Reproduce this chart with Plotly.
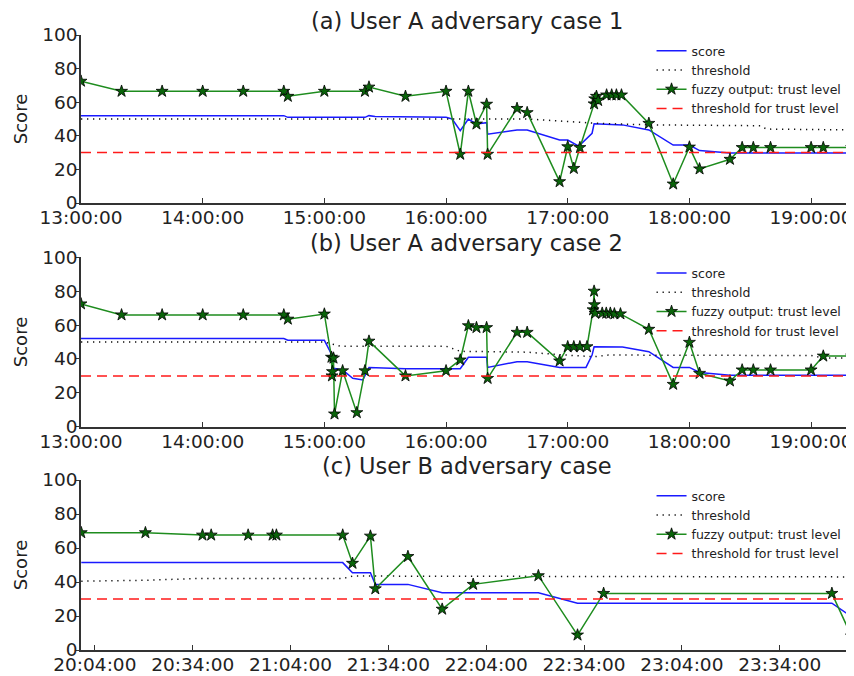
import plotly.graph_objects as go

DAY = "2000-01-01 "

# ---------------- Panel (a) ----------------
a_fuzzy_t = ["13:00:00", "13:20:00", "13:40:00", "14:00:00", "14:20:00", "14:40:00", "14:42:00",
             "15:00:00", "15:20:00", "15:22:00", "15:40:00", "16:00:00", "16:07:00", "16:11:00",
             "16:15:00", "16:20:00", "16:20:30", "16:35:00", "16:40:00", "16:56:00", "17:00:00",
             "17:03:00", "17:06:00", "17:13:00", "17:13:20", "17:14:10", "17:15:00", "17:19:10",
             "17:21:40", "17:24:00", "17:26:30", "17:40:00", "17:52:00", "18:00:00", "18:05:00",
             "18:20:00", "18:26:00", "18:31:30", "18:40:00", "19:00:00", "19:06:00", "19:20:00"]
a_fuzzy_v = [72.5, 66.5, 66.5, 66.5, 66.5, 66.5, 63.5,
             66.5, 66.5, 69, 63.5, 66.5, 29, 66.5,
             47, 58.8, 29, 56.3, 53.8, 12.7, 33.5,
             20.6, 33, 59, 62, 63.5, 61, 64.3,
             64.3, 64.3, 64.3, 47.4, 11.3, 33.3, 20.3,
             26, 33, 33, 33, 33, 33, 33]
a_score_t = ["13:00:00", "14:40:00", "14:42:00", "15:20:00", "15:22:00", "15:25:00", "16:00:00",
             "16:03:00", "16:07:00", "16:11:00", "16:15:00", "16:20:00", "16:20:30", "16:35:00",
             "16:40:00", "16:45:00", "16:56:00", "17:00:00", "17:05:00", "17:06:00", "17:12:00",
             "17:13:00", "17:27:00", "17:40:00", "17:52:00", "18:00:00", "18:05:00", "18:20:00",
             "19:20:00"]
a_score_v = [52, 52, 51, 51, 52, 51.5, 51,
             50, 43, 50, 47, 47.8, 41, 43.5,
             43.5, 41.5, 37.5, 37.5, 34.1, 34.5, 41.5,
             47.2, 46.5, 43.5, 34.5, 34.5, 31.2, 29.8,
             29.8]
a_thr_t = ["13:00:00", "16:40:00", "17:00:00", "17:13:00", "17:40:00", "18:35:00", "18:38:00", "19:20:00"]
a_thr_v = [50, 50, 48.5, 47.5, 46.5, 46, 44, 43.5]

# ---------------- Panel (b) ----------------
b_fuzzy_t = ["13:00:00", "13:20:00", "13:40:00", "14:00:00", "14:20:00", "14:40:00", "14:42:00",
             "15:00:00", "15:03:30", "15:03:45", "15:04:00", "15:04:30", "15:05:00", "15:09:00",
             "15:16:00", "15:20:00", "15:22:00", "15:40:00", "16:00:00", "16:07:00", "16:11:00",
             "16:15:00", "16:20:00", "16:20:30", "16:35:00", "16:40:00", "16:56:00", "17:00:00",
             "17:03:00", "17:06:00", "17:09:30", "17:12:30", "17:13:00", "17:13:10", "17:13:30",
             "17:17:00", "17:19:00", "17:21:00", "17:23:00", "17:26:00", "17:40:00", "17:52:00",
             "18:00:00", "18:05:00", "18:20:00", "18:26:00", "18:31:30", "18:40:00", "19:00:00",
             "19:06:00", "19:20:00"]
b_fuzzy_v = [72.5, 66, 66, 66, 66, 66, 63.5,
             66.5, 41, 30, 32.5, 40.5, 7.5, 33,
             8.3, 33, 50.5, 30, 33, 39.4, 59.6,
             58.5, 58.5, 28.5, 55.7, 55.7, 38.8, 47.2,
             47.2, 47.2, 47.2, 69, 80, 72, 67,
             67, 67, 67, 66.6, 66.6, 57.5, 25,
             49.8, 31.5, 27, 33.5, 33.5, 33.5, 33.5,
             41.7, 41.7]
b_score_t = ["13:00:00", "14:40:00", "14:42:00", "15:00:00", "15:03:00", "15:04:30", "15:09:00",
             "15:14:00", "15:19:00", "15:22:00", "15:40:00", "16:07:00", "16:11:00", "16:20:00",
             "16:20:30", "16:35:00", "16:40:00", "16:56:00", "17:09:00", "17:12:00", "17:13:00",
             "17:27:00", "17:40:00", "17:52:00", "18:00:00", "18:05:00", "18:20:00", "19:20:00"]
b_score_v = [52, 52, 51, 51, 44, 34.5, 33.5,
             28.6, 27.6, 35, 34.2, 34.2, 41, 41,
             35, 38.4, 38.4, 35, 35, 42.3, 47.2,
             47, 44.3, 35, 35, 32, 30.3, 30.3]
b_thr_t = ["13:00:00", "15:00:00", "15:08:00", "16:00:00", "16:07:00", "16:40:00", "16:56:00",
           "17:13:00", "17:20:00", "19:00:00", "19:06:00", "19:20:00"]
b_thr_v = [50, 50, 47.5, 47.5, 44.5, 44, 42.5, 41.3, 42.3, 42, 40.5, 40.5]

# ---------------- Panel (c) ----------------
c_fuzzy_t = ["19:59:50", "20:19:30", "20:37:00", "20:39:40", "20:51:00", "20:58:30", "20:59:40",
             "21:20:00", "21:23:00", "21:28:30", "21:30:00", "21:40:00", "21:50:30", "22:00:00",
             "22:20:00", "22:32:00", "22:40:00", "23:50:00", "23:56:00"]
c_fuzzy_v = [69, 69, 67.6, 67.6, 67.6, 67.6, 67.6,
             67.6, 51, 67, 36, 55, 24, 38.6,
             43.7, 8.8, 33.3, 33.3, 8.2]
c_score_t = ["19:59:50", "21:20:00", "21:23:00", "21:28:30", "21:30:00", "21:40:00", "21:50:30",
             "22:20:00", "22:32:00", "23:50:00", "23:56:00"]
c_score_v = [51.4, 51.4, 45.5, 45.5, 38.6, 38.6, 33.7, 33.7, 27.5, 27.5, 19.6]
c_thr_t = ["19:59:50", "20:20:00", "20:34:00", "21:20:00", "21:23:00", "23:56:00"]
c_thr_v = [40.5, 41, 42, 42, 43.5, 43]

trust_threshold = 30

titles = ["(a) User A adversary case 1", "(b) User A adversary case 2", "(c) User B adversary case"]
series_names = ["score", "threshold", "fuzzy output: trust level", "threshold for trust level"]
y_ticks = [0, 20, 40, 60, 80, 100]

# ranges / ticks
x_ranges = [["13:00:00", "19:20:10"], ["13:00:00", "19:20:10"], ["19:59:45", "23:56:10"]]
tick0s = ["13:00:00", "13:00:00", "20:04:00"]
dticks_min = [60, 60, 30]

panels = [
    (a_score_t, a_score_v, a_thr_t, a_thr_v, a_fuzzy_t, a_fuzzy_v),
    (b_score_t, b_score_v, b_thr_t, b_thr_v, b_fuzzy_t, b_fuzzy_v),
    (c_score_t, c_score_v, c_thr_t, c_thr_v, c_fuzzy_t, c_fuzzy_v),
]

# the page body has an 8px margin, so the figure is drawn 8px in from the top-left
OFF = 8
W, H = 854 - OFF, 676 - OFF
ML, MR = 81 - OFF, 2
# plot area pixel extents in the window (top, bottom)
y_px = [(35, 203), (257.3, 426.7), (480, 650)]

FONT = "DejaVu Sans"
TXT = "#222222"

fig = go.Figure()
legend_keys = ["legend", "legend2", "legend3"]

def d(ts):
    return [DAY + t for t in ts]

for i, (st, sv, tt, tv, ft, fv) in enumerate(panels):
    xa = "x" if i == 0 else f"x{i+1}"
    ya = "y" if i == 0 else f"y{i+1}"
    lg = legend_keys[i]
    fig.add_trace(go.Scatter(x=d(st), y=sv, mode="lines", name=series_names[0],
                             line=dict(color="#1a1aff", width=1.5), xaxis=xa, yaxis=ya, legend=lg))
    fig.add_trace(go.Scatter(x=d(tt), y=tv, mode="lines", name=series_names[1],
                             line=dict(color="#111111", width=1.5, dash="1.3px,4.7px"),
                             xaxis=xa, yaxis=ya, legend=lg))
    fig.add_trace(go.Scatter(x=d(ft), y=fv, mode="lines+markers", name=series_names[2],
                             line=dict(color="#1e8c1e", width=1.5),
                             marker=dict(symbol="star", size=9, color="#0a640a",
                                         line=dict(color="#000000", width=0.8)),
                             xaxis=xa, yaxis=ya, legend=lg))
    fig.add_trace(go.Scatter(x=[DAY + x_ranges[i][0], DAY + x_ranges[i][1]],
                             y=[trust_threshold, trust_threshold], mode="lines",
                             name=series_names[3],
                             line=dict(color="#ff1a1a", width=1.5, dash="10px,6px"),
                             xaxis=xa, yaxis=ya, legend=lg))

layout = dict(
    template="none",
    width=W, height=H,
    margin=dict(l=ML, r=MR, t=0, b=0, autoexpand=False),
    paper_bgcolor="white", plot_bgcolor="white",
    font=dict(family=FONT, color=TXT),
    showlegend=True,
)

annotations = []
for i in range(3):
    top, bot = y_px[i]
    dom = [1 - (bot - OFF) / H, 1 - (top - OFF) / H]
    xk = "xaxis" if i == 0 else f"xaxis{i+1}"
    yk = "yaxis" if i == 0 else f"yaxis{i+1}"
    ya = "y" if i == 0 else f"y{i+1}"
    xa = "x" if i == 0 else f"x{i+1}"
    layout[xk] = dict(
        domain=[0, 1], anchor=ya, type="date", automargin=False,
        range=[DAY + x_ranges[i][0], DAY + x_ranges[i][1]],
        tick0=DAY + tick0s[i], dtick=dticks_min[i] * 60 * 1000,
        tickformat="%H:%M:%S", ticks="inside", ticklen=5, tickwidth=1,
        tickcolor="#333", showline=True, linecolor="#333", linewidth=1.5,
        showgrid=False, zeroline=False, tickfont=dict(size=18.5, color=TXT, family=FONT),
        ticklabelstandoff=-3,
    )
    layout[yk] = dict(
        domain=dom, anchor=xa, range=[0, 100], tickvals=y_ticks, automargin=False,
        ticks="outside", ticklen=4, tickwidth=1, tickcolor="#333",
        showline=True, linecolor="#333", linewidth=1.5, showgrid=False, zeroline=False,
        tickfont=dict(size=18.5, color=TXT, family=FONT), ticklabelstandoff=-6,
        title=dict(text="Score", font=dict(size=18, color=TXT, family=FONT), standoff=10),
    )
    lk = legend_keys[i]
    layout[lk] = dict(
        x=0.740, xanchor="left", xref="paper",
        y=1 - (top + 1 - OFF) / H, yanchor="top", yref="paper",
        bgcolor="rgba(0,0,0,0)", borderwidth=0,
        font=dict(size=12.5, color=TXT, family=FONT),
        itemwidth=30, tracegroupgap=0,
    )
    annotations.append(dict(
        text=titles[i], xref="paper", yref="paper", x=0.5, xanchor="center",
        y=1 - (top - 14 - OFF) / H, yanchor="middle", showarrow=False,
        font=dict(size=22.5, color=TXT, family=FONT),
    ))

layout["annotations"] = annotations
fig.update_layout(**layout)
fig.write_html("out.html")
